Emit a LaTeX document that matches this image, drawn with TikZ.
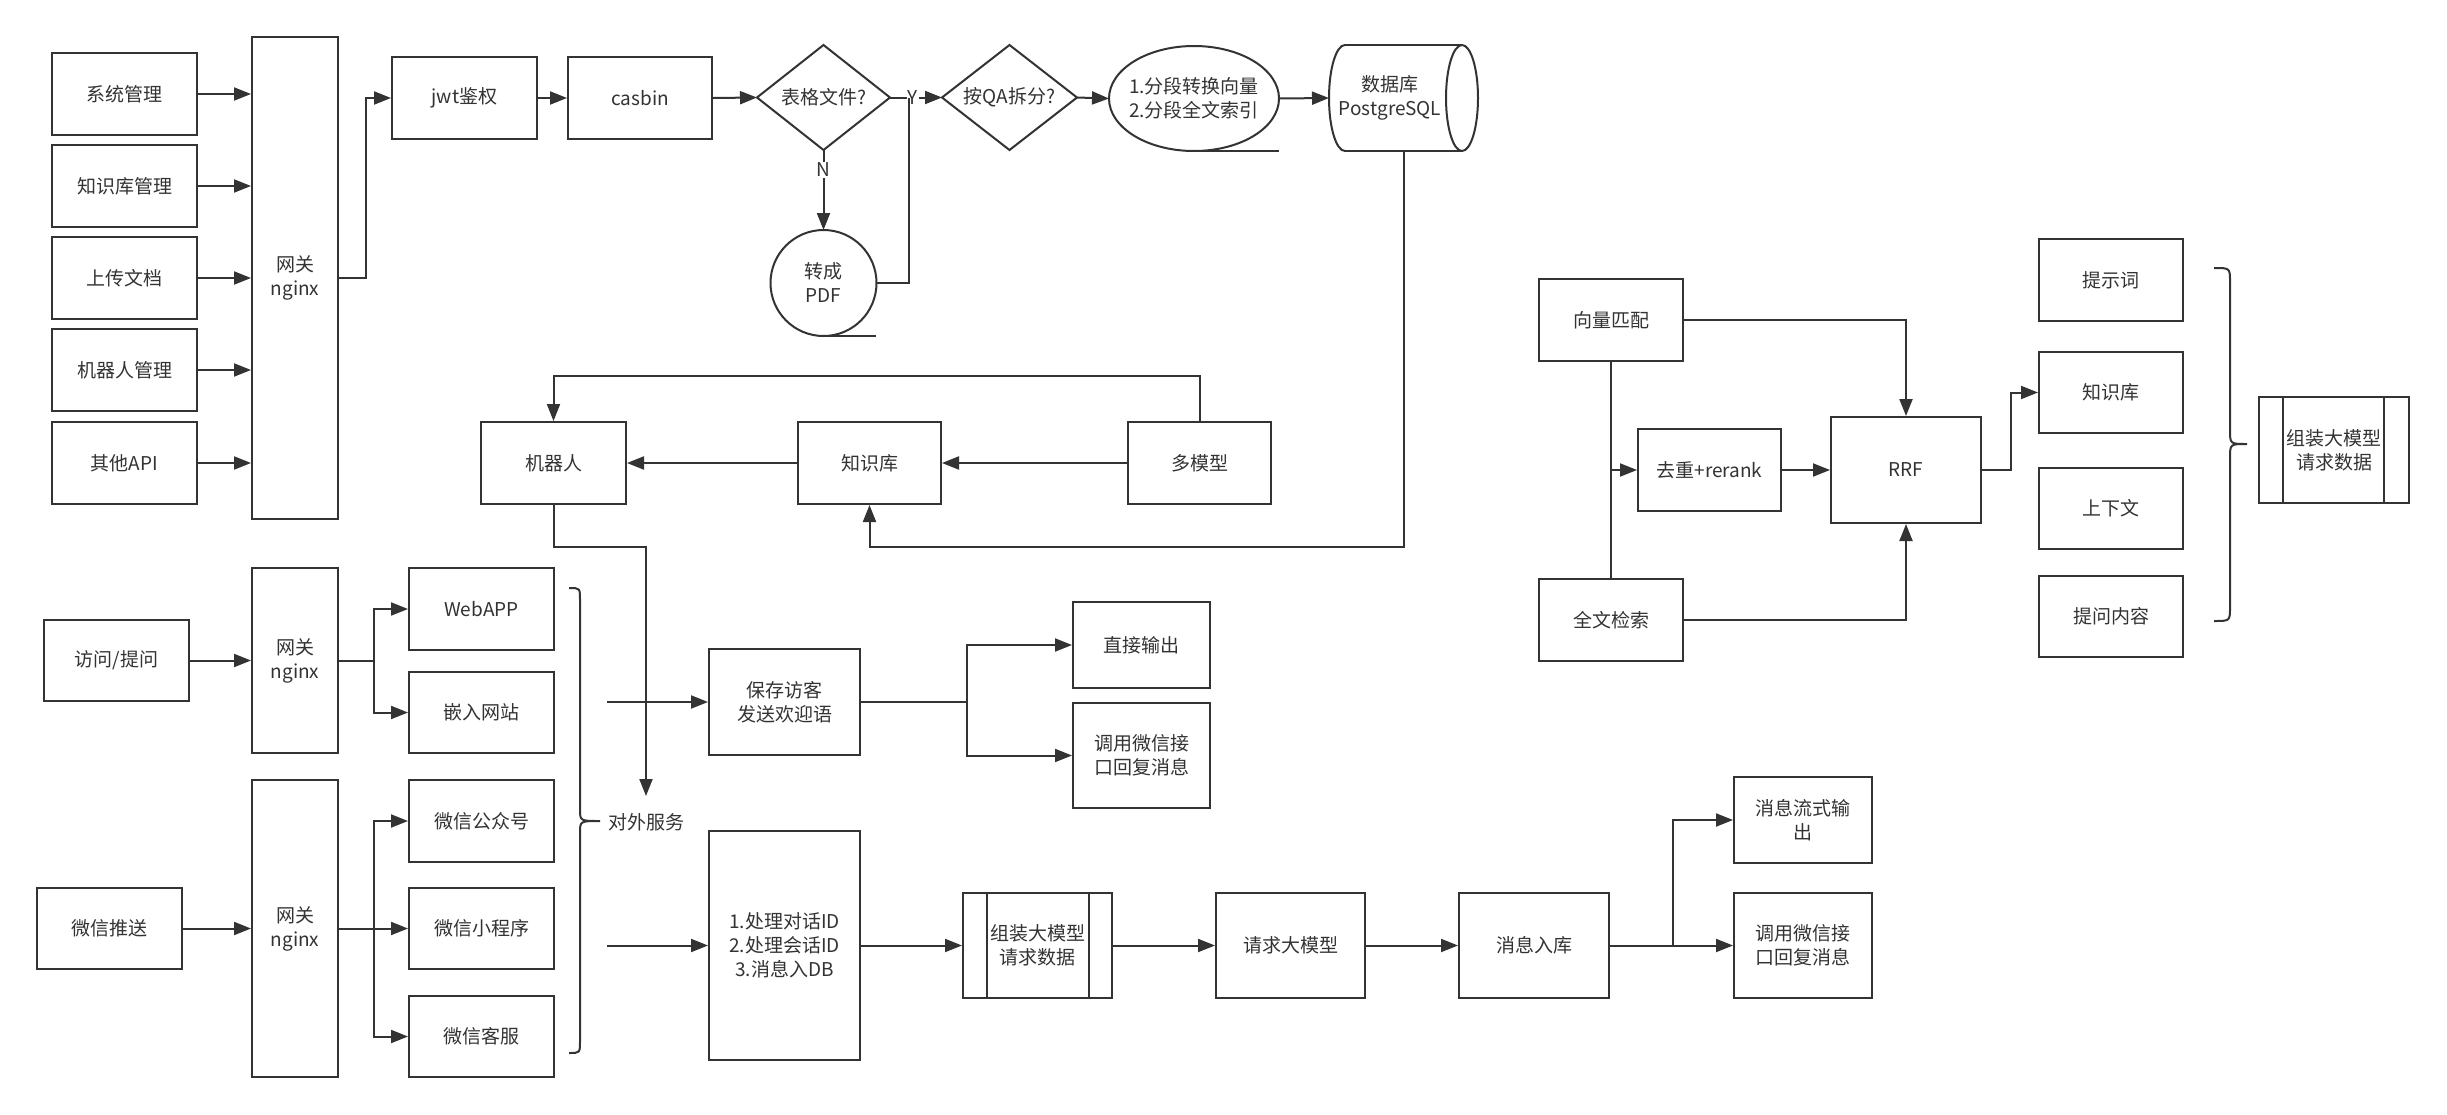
\documentclass[tikz,border=0pt]{standalone}
\usepackage{fontspec}
\setmainfont{Noto Sans CJK SC}
\usetikzlibrary{arrows.meta,calc}
\definecolor{lc}{HTML}{333333}
\newcommand\fsz{\fontsize{19}{24}\selectfont}
\begin{document}
\begin{tikzpicture}[x=1pt,y=-1pt,
  box/.style={draw=lc, line width=2pt, text=lc, font=\fsz, align=center, inner sep=1pt},
  B/.style 2 args={box, minimum width=#1pt, minimum height=#2pt},
  txt/.style={text=lc, font=\fsz, align=center, inner sep=1pt},
  ln/.style={draw=lc, line width=2pt},
  arr/.style={ln, -{Triangle[length=17pt,width=13pt]}},
]
\fill[white] (0,0) rectangle (2447,1114);
\useasboundingbox (0,0) rectangle (2447,1114);

% ---------- top-left management ----------
\node[B={145}{82}] (s1) at (124.5,94) {系统管理};
\node[B={145}{82}] (s2) at (124.5,186) {知识库管理};
\node[B={145}{82}] (s3) at (124.5,278) {上传文档};
\node[B={145}{82}] (s4) at (124.5,370) {机器人管理};
\node[B={145}{82}] (s5) at (124.5,463) {其他API};
\node[B={86}{482}] (g1) at (295,278) {网关\\nginx};
\foreach \s in {s1,s2,s3,s4,s5}{\draw[arr] (\s.east) -- (\s.east -| g1.west);}
\node[B={145}{82}] (jwt) at (464.5,98) {jwt鉴权};
\node[B={144}{82}] (casbin) at (640,98) {casbin};
\draw[arr] (g1.east) -- ++(27,0) |- (jwt.west);
\draw[arr] (jwt) -- (casbin);

% diamonds
\coordinate (d1w) at (757,97.5);
\coordinate (d1n) at (823.5,45);
\coordinate (d1e) at (890,97.5);
\coordinate (d1s) at (823.5,150);
\draw[ln] (d1w) -- (d1n) -- (d1e) -- (d1s) -- cycle;
\node[txt] (d1) at (823.5,97.5) {表格文件?};
\coordinate (d2w) at (942,97.5);
\coordinate (d2n) at (1009.5,45);
\coordinate (d2e) at (1077,97.5);
\coordinate (d2s) at (1009.5,150);
\draw[ln] (d2w) -- (d2n) -- (d2e) -- (d2s) -- cycle;
\node[txt] (d2) at (1009.5,97.5) {按QA拆分?};
\draw[arr] (casbin.east) -- (d1w);

% sequential data shape
\draw[ln] (1194,98.5) ellipse [x radius=85pt, y radius=52.5pt];
\draw[ln] (1194,151) -- (1279,151);
\node[txt] (seq) at (1194,98.5) {1.分段转换向量\\2.分段全文索引};
\coordinate (seqw) at (1109,98.5);
\coordinate (seqe) at (1279,98.5);

% PDF shape
\draw[ln] (823.5,283) ellipse [x radius=53pt, y radius=53pt];
\draw[ln] (823.5,336) -- (876,336);
\node[txt] (pdf) at (823.5,283) {转成\\PDF};
\coordinate (pdfn) at (823.5,230);
\coordinate (pdfe) at (876.5,283);

% database cylinder
\draw[ln] (1345,45) -- (1462,45);
\draw[ln] (1345,151) -- (1462,151);
\draw[ln] (1345,45) arc[start angle=90, end angle=270, x radius=16pt, y radius=53pt];
\draw[ln] (1462,98) ellipse [x radius=16pt, y radius=53pt];
\node[txt] (db) at (1390,98) {数据库\\PostgreSQL};
\coordinate (dbw) at (1329,98);
\coordinate (dbs) at (1404,151);

\draw[arr] (d1e) -- node[txt, fill=white, pos=0.44]{Y} (d2w);
\draw[arr] (d2e) -- (seqw);
\draw[arr] (seqe) -- (dbw);
\draw[arr] (d1s) -- node[txt, fill=white, pos=0.25]{N} (pdfn);
\coordinate (j1) at (909,97.5);
\draw[ln] (pdfe) -| (j1);

% robot / kb / multi-model
\node[B={145}{82}] (robot) at (553.5,463) {机器人};
\node[B={143}{82}] (kb) at (869.5,463) {知识库};
\node[B={143}{82}] (mm) at (1199.5,463) {多模型};
\draw[arr] (mm) -- (kb);
\draw[arr] (kb) -- (robot);
\draw[arr] (mm.north) -- ++(0,-45) -| (robot.north);
\draw[arr] (dbs) -- ++(0,396) -| (kb.south);
\coordinate (e1) at (646,796);
\draw[arr] (robot.south) -- ++(0,42) -| (e1);

% ---------- lower left ----------
\node[B={145}{81}] (visit) at (116.5,660.5) {访问/提问};
\node[B={86}{185}] (g2) at (295,660.5) {网关\\nginx};
\node[B={145}{82}] (web) at (481.5,609) {WebAPP};
\node[B={145}{81}] (embed) at (481.5,712.5) {嵌入网站};
\draw[arr] (visit) -- (g2);
\draw[arr] (g2.east) -- ++(35,0) |- (web.west);
\draw[arr] (g2.east) -- ++(35,0) |- (embed.west);

\node[B={145}{81}] (push) at (109.5,928.5) {微信推送};
\node[B={86}{297}] (g3) at (295,928.5) {网关\\nginx};
\node[B={145}{82}] (gzh) at (481.5,821) {微信公众号};
\node[B={145}{81}] (xcx) at (481.5,928.5) {微信小程序};
\node[B={145}{81}] (kf) at (481.5,1036.5) {微信客服};
\draw[arr] (push) -- (g3);
\draw[arr] (g3.east) -- ++(35,0) |- (gzh.west);
\draw[arr] (g3.east) -- ++(35,0) |- (xcx.west);
\draw[arr] (g3.east) -- ++(35,0) |- (kf.west);

% brace 2
\draw[ln] (569,588) .. controls (580,588) .. (580,600) -- (580,809)
  .. controls (580,821) .. (600,821) .. controls (580,821) .. (580,833)
  -- (580,1041) .. controls (580,1053) .. (569,1053);
\node[txt, anchor=west] (svc) at (607,822) {对外服务};

\node[B={151}{106}] (save) at (784.5,702) {保存访客\\发送欢迎语};
\node[B={151}{229}] (proc) at (784.5,945.5) {1.处理对话ID\\2.处理会话ID\\3.消息入DB};
\coordinate (c1) at (607,702);
\coordinate (c2) at (607,945.5);
\draw[arr] (c1) -- (save.west);
\draw[arr] (c2) -- (proc.west);

\node[B={137}{86}] (direct) at (1141.5,645) {直接输出};
\node[B={137}{105}] (wx1) at (1141.5,755.5) {调用微信接\\口回复消息};
\draw[arr] (save.east) -- ++(106,0) |- (direct.west);
\draw[arr] (save.east) -- ++(106,0) |- (wx1.west);

\node[B={149}{105}] (asm2) at (1037.5,945.5) {组装大模型\\请求数据};
\draw[ln] ([xshift=25pt]asm2.north west) -- ([xshift=25pt]asm2.south west);
\draw[ln] ([xshift=-24pt]asm2.north east) -- ([xshift=-24pt]asm2.south east);
\node[B={149}{105}] (req) at (1290.5,945.5) {请求大模型};
\node[B={150}{105}] (store) at (1534,945.5) {消息入库};
\node[B={138}{86}] (stream) at (1803,820) {消息流式输\\出};
\node[B={138}{105}] (wx2) at (1803,945.5) {调用微信接\\口回复消息};
\draw[arr] (proc) -- (asm2);
\draw[arr] (asm2) -- (req);
\draw[arr] (req) -- (store);
\draw[arr] (store.east) -- ++(63,0) |- (stream.west);
\draw[arr] (store.east) -- (wx2.west);

% ---------- right part ----------
\node[B={144}{82}] (vec) at (1611,320) {向量匹配};
\node[B={144}{82}] (full) at (1611,620) {全文检索};
\node[B={143}{82}] (dedup) at (1709.5,470) {去重+rerank};
\node[B={150}{106}] (rrf) at (1906,470) {RRF};
\draw[ln] (vec) -- (full);
\coordinate (c3) at (1611,470);
\draw[arr] (c3) -- (dedup);
\draw[arr] (dedup) -- (rrf);
\draw[arr] (vec.east) -| (rrf.north);
\draw[arr] (full.east) -| (rrf.south);

\node[B={144}{82}] (tip) at (2111,280) {提示词};
\node[B={144}{81}] (kb2) at (2111,392.5) {知识库};
\node[B={144}{81}] (ctx) at (2111,508.5) {上下文};
\node[B={144}{81}] (ques) at (2111,616.5) {提问内容};
\draw[arr] (rrf.east) -- ++(29,0) |- (kb2.west);

% brace 1
\draw[ln] (2214,268) .. controls (2230,268) .. (2230,282) -- (2230,430)
  .. controls (2230,444) .. (2247,444) .. controls (2230,444) .. (2230,458)
  -- (2230,607) .. controls (2230,621) .. (2214,621);

\node[B={150}{106}] (asm1) at (2334,450) {组装大模型\\请求数据};
\draw[ln] ([xshift=25pt]asm1.north west) -- ([xshift=25pt]asm1.south west);
\draw[ln] ([xshift=-26pt]asm1.north east) -- ([xshift=-26pt]asm1.south east);
\end{tikzpicture}
\end{document}
